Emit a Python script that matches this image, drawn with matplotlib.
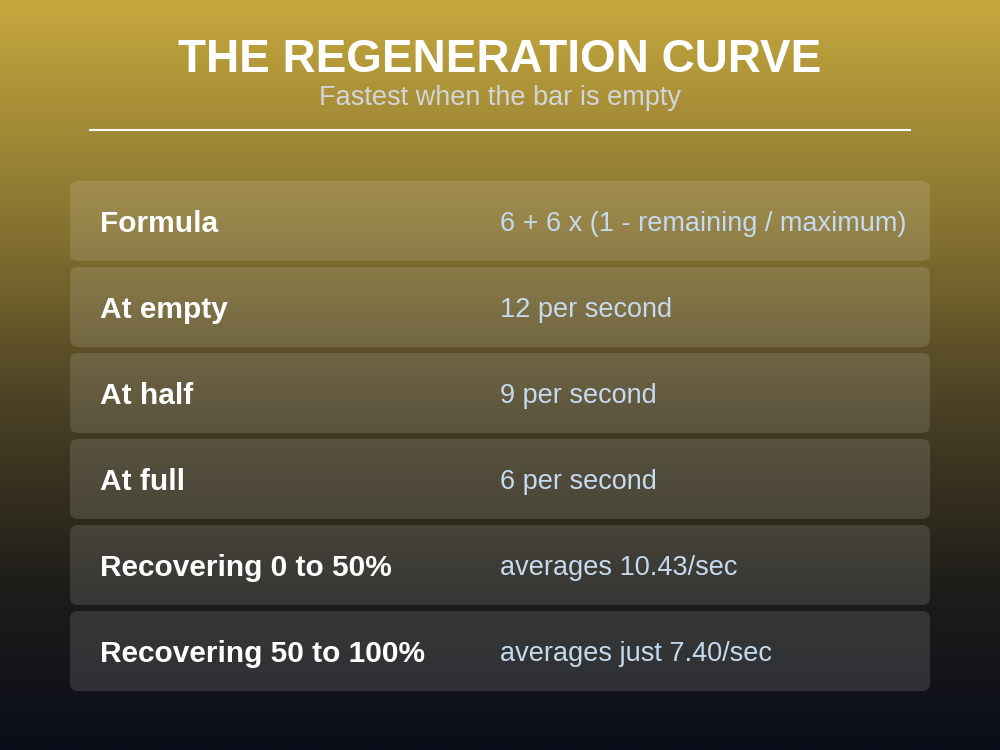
import numpy as np
import matplotlib
matplotlib.use("Agg")
import matplotlib.pyplot as plt
from matplotlib.patches import FancyBboxPatch

FONT = 'Liberation Sans'

title = "THE REGENERATION CURVE"
subtitle = "Fastest when the bar is empty"
labels = ["Formula", "At empty", "At half", "At full",
          "Recovering 0 to 50%", "Recovering 50 to 100%"]
values = ["6 + 6 x (1 - remaining / maximum)", "12 per second", "9 per second",
          "6 per second", "averages 10.43/sec", "averages just 7.40/sec"]

W, H = 1000, 750
fig = plt.figure(figsize=(10, 7.5), dpi=100)
ax = fig.add_axes([0, 0, 1, 1])
ax.set_xlim(0, W)
ax.set_ylim(H, 0)
ax.axis('off')

# background gradient
stops = np.array([0.0, 0.3, 0.55, 0.78, 1.0])
cols = np.array([[198, 168, 62], [135, 115, 48], [72, 63, 36], [30, 29, 25], [10, 14, 26]]) / 255
t = np.linspace(0, 1, 400)
grad = np.stack([np.interp(t, stops, cols[:, c]) for c in range(3)], axis=1)
img = np.repeat(grad[:, None, :], 2, axis=1)
ax.imshow(img, extent=[0, W, H, 0], aspect='auto', zorder=0, interpolation='bilinear')

ax.text(W / 2, 72, title, ha='center', va='baseline', color='white',
        fontsize=33, fontweight='bold', family=FONT, zorder=3)
ax.text(W / 2, 105, subtitle, ha='center', va='baseline', color='#d2d6da',
        fontsize=19.5, family=FONT, zorder=3)
ax.plot([90, 910], [130, 130], color='white', lw=1.5, zorder=3)

top0, rh, gap = 181, 80, 6
for i, (lab, val) in enumerate(zip(labels, values)):
    top = top0 + i * (rh + gap)
    box = FancyBboxPatch((70, top), 860, rh,
                         boxstyle="round,pad=0,rounding_size=8",
                         facecolor='white', alpha=0.125, edgecolor='none', zorder=1)
    ax.add_patch(box)
    ax.text(100, top + 51, lab, ha='left', va='baseline', color='white',
            fontsize=21.5, fontweight='bold', family=FONT, zorder=3)
    ax.text(500, top + 50, val, ha='left', va='baseline', color='#c6daee',
            fontsize=19.5, family=FONT, zorder=3)

fig.savefig("out.png", dpi=100)
